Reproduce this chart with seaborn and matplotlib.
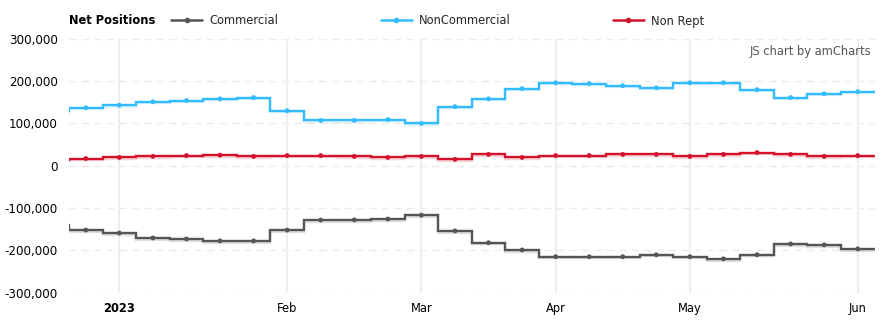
import numpy as np
import pandas as pd
import matplotlib
matplotlib.use("Agg")
import matplotlib.pyplot as plt
import matplotlib.dates as mdates
import matplotlib.patheffects as pe
from matplotlib.lines import Line2D
import seaborn as sns

# ---- data (thousands of contracts), weekly report dates ----
dates = pd.date_range("2022-12-20", "2023-06-06", freq="7D")
commercial = [-140, -152, -159, -170.6, -173, -177.7, -177.7, -152, -128.4, -128, -126,
              -116.7, -154, -182, -199, -215, -215, -215, -210.5, -215, -220, -210.5,
              -184.7, -187, -196.5]
noncommercial = [129, 137, 143, 151, 154, 158, 161, 130, 107, 107, 109, 100, 139.5, 158,
                 182, 196, 194, 189, 184, 196, 196, 179.5, 161, 170, 175]
nonrept = [14, 17, 19.5, 22, 24, 25, 22, 24, 24, 22, 19.5, 22, 15, 26.6, 19.5, 24, 24,
           26.6, 26.6, 22, 26.6, 31, 26.6, 22, 24]
series_names = ["Commercial", "NonCommercial", "Non Rept"]
series_colors = ["#555555", "#33bbff", "#d3132b"]
y_ticks = [-300000, -200000, -100000, 0, 100000, 200000, 300000]

sns.set_theme(style="white")
plt.rcParams["font.family"] = ["DejaVu Sans"]

df = pd.DataFrame({"date": dates,
                   "Commercial": np.array(commercial) * 1000,
                   "NonCommercial": np.array(noncommercial) * 1000,
                   "Non Rept": np.array(nonrept) * 1000})
df["x"] = mdates.date2num(df["date"])
long = df.melt(id_vars=["date", "x"], value_vars=series_names,
               var_name="series", value_name="value")

fig = plt.figure(figsize=(8.89, 3.27), dpi=100)
ax = fig.add_axes([69 / 889, 34.3 / 327, (874.5 - 69) / 889, (292.7 - 38.7) / 327])

half = 3.5
edges = np.concatenate([df["x"].values - half, [df["x"].values[-1] + half]])
for name, col in zip(series_names, series_colors):
    ax.stairs(df[name].values, edges, baseline=None, color=col, lw=1.7, zorder=3,
              path_effects=[pe.SimpleLineShadow(offset=(0, -1.2), shadow_color=col, alpha=0.18),
                            pe.Normal()])

sns.scatterplot(data=long, x="x", y="value", hue="series", hue_order=series_names,
                palette=series_colors, s=12, linewidth=0, legend=False, ax=ax, zorder=4)

# axes limits
ax.set_xlim(df["x"].values[0] + half, df["x"].values[-1] + half)
ax.set_ylim(-300000, 300000)

# x ticks: first weekly date of each month
tick_dates = df.loc[df["date"].dt.day <= 7, "date"]
ax.set_xticks(mdates.date2num(tick_dates))
labels = ["2023" if d.month == 1 else d.strftime("%b") for d in tick_dates]
ax.set_xticklabels(labels)
for t, d in zip(ax.get_xticklabels(), tick_dates):
    if d.month == 1:
        t.set_fontweight("bold")
ax.set_yticks(y_ticks)
ax.set_yticklabels([f"{v:,.0f}" for v in y_ticks])
ax.tick_params(axis="x", labelsize=8.3, pad=6.5, length=0, colors="#000000")
ax.tick_params(axis="y", labelsize=8.6, pad=8, length=0, colors="#000000")
ax.set_xlabel("")
ax.set_ylabel("")

# grids
ax.grid(False)
for v in y_ticks:
    ax.axhline(v, color="#ebebeb", lw=1, ls=(0, (5, 4)), zorder=1)
for xv in mdates.date2num(tick_dates):
    ax.axvline(xv, color="#eeeeee", lw=1.5, zorder=1)
for s in ax.spines.values():
    s.set_visible(False)

# title and legend
ty = 1 - 21 / 327
fig.text(69 / 889, ty, "Net Positions", fontsize=8.3, fontweight="bold",
         va="center", ha="left", color="#000000")
handles = [Line2D([0], [0], color=c, lw=1.8, marker="o", markersize=3.0) for c in series_colors]
leg = fig.legend(handles, series_names, loc="center left", bbox_to_anchor=(171 / 889, ty),
                 ncol=3, frameon=False, fontsize=8.3, handlelength=2.7, handletextpad=0.6,
                 columnspacing=8.9, borderpad=0, borderaxespad=0)

fig.text(871 / 889, 1 - 51 / 327, "JS chart by amCharts", fontsize=8.3, color="#555555",
         ha="right", va="center")

fig.savefig("out.png", dpi=100)
